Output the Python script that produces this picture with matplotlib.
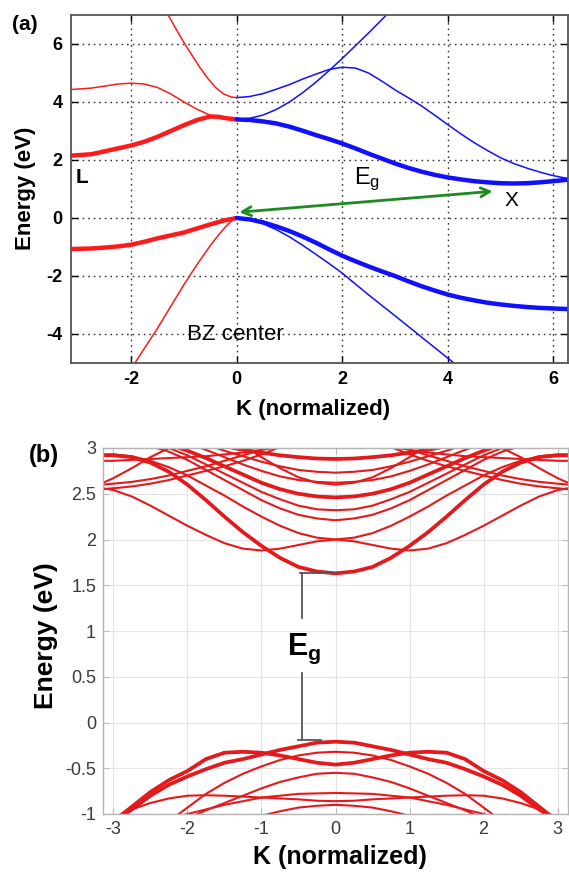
import numpy as np
import matplotlib
matplotlib.use('Agg')
import matplotlib.pyplot as plt

plt.rcParams['font.family'] = ['Liberation Sans', 'DejaVu Sans']
plt.rcParams['mathtext.fontset'] = 'custom'
plt.rcParams['mathtext.rm'] = 'Liberation Sans'
plt.rcParams['mathtext.it'] = 'Liberation Sans'
plt.rcParams['mathtext.bf'] = 'Liberation Sans:bold'

# ---------------- panel (a): L - Gamma - X band structure ----------------
ka_red_c = [-3.14, -2.75, -2.5, -2.25, -2.0, -1.75, -1.5, -1.25, -1.0, -0.75, -0.5, -0.35, -0.2, 0.0]
ea_red_c1 = [2.15, 2.20, 2.30, 2.40, 2.50, 2.63, 2.80, 3.00, 3.20, 3.38, 3.50, 3.49, 3.44, 3.40]  # thick
ea_red_c2 = [4.43, 4.48, 4.55, 4.62, 4.65, 4.62, 4.50, 4.28, 4.00, 3.75, 3.54, 3.47, 3.42, 3.40]
ka_red_c3 = [-1.45, -1.3, -1.15, -1.0, -0.85, -0.7, -0.55, -0.4, -0.25, -0.1, 0.0]
ea_red_c3 = [7.45, 7.00, 6.52, 6.05, 5.62, 5.20, 4.82, 4.50, 4.28, 4.17, 4.15]
ka_red_v1 = [-3.14, -2.75, -2.5, -2.25, -2.0, -1.75, -1.5, -1.25, -1.0, -0.75, -0.5, -0.25, 0.0]
ea_red_v1 = [-1.07, -1.05, -1.02, -0.98, -0.92, -0.82, -0.70, -0.60, -0.50, -0.36, -0.22, -0.09, 0.0]  # thick
ka_red_v2 = [-2.0, -1.75, -1.5, -1.25, -1.0, -0.75, -0.5, -0.35, -0.2, -0.1, 0.0]
ea_red_v2 = [-5.2, -4.5, -3.8, -3.05, -2.3, -1.6, -0.95, -0.60, -0.28, -0.10, 0.0]

ka_blue = [0.0, 0.25, 0.5, 0.75, 1.0, 1.25, 1.5, 1.75, 2.0, 2.25, 2.5, 2.75, 3.0,
           3.25, 3.5, 3.75, 4.0, 4.25, 4.5, 4.75, 5.0, 5.25, 5.5, 5.75, 6.0, 6.28]
ea_blue_c1 = [3.40, 3.38, 3.33, 3.26, 3.15, 3.01, 2.86, 2.72, 2.57, 2.40, 2.22, 2.05, 1.88,
              1.73, 1.60, 1.49, 1.40, 1.33, 1.27, 1.23, 1.20, 1.19, 1.20, 1.23, 1.27, 1.32]  # thick
ea_blue_c2 = [4.15, 4.19, 4.29, 4.44, 4.60, 4.79, 4.96, 5.12, 5.20, 5.17, 5.00, 4.72, 4.42,
              4.15, 3.87, 3.55, 3.22, 2.90, 2.60, 2.33, 2.08, 1.88, 1.72, 1.58, 1.46, 1.36]
ea_blue_v1 = [0.0, -0.05, -0.15, -0.29, -0.45, -0.64, -0.85, -1.08, -1.30, -1.49, -1.67, -1.84, -2.00,
              -2.18, -2.35, -2.50, -2.64, -2.75, -2.84, -2.92, -2.98, -3.03, -3.07, -3.10, -3.12, -3.14]  # thick
ka_blue_c3 = [0.0, 0.25, 0.5, 0.75, 1.0, 1.25, 1.5, 1.75, 2.0, 2.25, 2.5, 2.75, 3.0]
ea_blue_c3 = [3.40, 3.44, 3.55, 3.74, 4.00, 4.32, 4.68, 5.08, 5.50, 5.94, 6.38, 6.84, 7.30]
ka_blue_v2 = [0.0, 0.25, 0.5, 0.75, 1.0, 1.25, 1.5, 1.75, 2.0, 2.5, 3.0, 3.5, 4.0, 4.2]
ea_blue_v2 = [0.0, -0.06, -0.20, -0.40, -0.65, -0.94, -1.25, -1.57, -1.90, -2.65, -3.37, -4.10, -4.83, -5.12]

arrow_start = (4.85, 0.92)
arrow_end = (0.05, 0.20)

xticks_a = [-2, 0, 2, 4, 6]
yticks_a = [-4, -2, 0, 2, 4, 6]

# ---------------- panel (b): supercell band structure ----------------
# readings at K >= 0 (the bands are symmetric about K = 0)
kb_half = [0.0, 0.25, 0.5, 0.75, 1.0, 1.25, 1.5, 1.75, 2.0, 2.25, 2.5, 2.75, 3.0, 3.14]
cb_half = {
    'cA': [1.63, 1.65, 1.70, 1.80, 1.93, 2.08, 2.25, 2.43, 2.60, 2.74, 2.84, 2.90, 2.92, 2.92],
    'cB': [2.00, 1.98, 1.94, 1.90, 1.88, 1.90, 1.96, 2.05, 2.15, 2.26, 2.37, 2.47, 2.54, 2.56],
    'cC': [2.00, 2.02, 2.07, 2.15, 2.25, 2.36, 2.48, 2.59, 2.70, 2.79, 2.86, 2.91, 2.93, 2.93],
    'cD': [2.21, 2.23, 2.27, 2.34, 2.43, 2.54, 2.65, 2.76, 2.87, 2.96, 3.02, 3.06, 3.08, 3.08],
    'cE': [2.32, 2.33, 2.37, 2.44, 2.52, 2.62, 2.72, 2.82, 2.92, 3.00, 3.05, 3.08, 3.10, 3.10],
    'cF': [2.46, 2.47, 2.50, 2.55, 2.62, 2.71, 2.80, 2.89, 2.97, 3.04, 3.10, 3.13, 3.15, 3.15],
    'cG': [2.62, 2.63, 2.65, 2.69, 2.75, 2.82, 2.90, 2.98, 3.05, 3.10, 3.15, 3.18, 3.20, 3.20],
    'cH': [2.73, 2.74, 2.76, 2.80, 2.85, 2.91, 2.97, 3.04, 3.10, 3.15, 3.20, 3.23, 3.25, 3.25],
    'cI': [2.88, 2.885, 2.90, 2.92, 2.95, 2.98, 3.02, 3.06, 3.10, 3.15, 3.20, 3.23, 3.25, 3.25],
    'cJ': [3.30, 3.26, 3.15, 3.06, 2.98, 2.92, 2.86, 2.80, 2.75, 2.70, 2.66, 2.63, 2.61, 2.60],
    'cK': [3.25, 3.21, 3.10, 3.01, 2.93, 2.86, 2.80, 2.75, 2.70, 2.65, 2.61, 2.58, 2.56, 2.55],
    'cM': [3.80, 3.78, 3.70, 3.60, 3.50, 3.40, 3.30, 3.20, 3.10, 3.00, 2.90, 2.78, 2.67, 2.62],
    'cN': [3.10, 3.09, 3.05, 3.01, 2.98, 2.95, 2.93, 2.91, 2.90, 2.89, 2.88, 2.87, 2.86, 2.86],
    'cO': [2.60, 2.62, 2.68, 2.78, 2.90, 3.03, 3.17, 3.30, 3.40, 3.50, 3.55, 3.60, 3.60, 3.60],
}
vb_half = {
    'vA': [-0.21, -0.22, -0.26, -0.30, -0.35, -0.40, -0.44, -0.51, -0.59, -0.68, -0.80, -0.95, -1.08, -1.15],
    'vB': [-0.46, -0.44, -0.40, -0.36, -0.33, -0.32, -0.33, -0.40, -0.53, -0.63, -0.76, -0.92, -1.08, -1.12],
    'vC': [-0.32, -0.33, -0.36, -0.41, -0.48, -0.56, -0.66, -0.78, -0.93, -1.08, -1.20, -1.35, -1.50, -1.55],
    'vD': [-0.55, -0.56, -0.60, -0.65, -0.72, -0.80, -0.88, -0.96, -1.05, -1.15, -1.25, -1.35, -1.45, -1.50],
    'vE': [-0.77, -0.775, -0.78, -0.80, -0.82, -0.86, -0.90, -0.95, -1.00, -1.06, -1.12, -1.20, -1.28, -1.30],
    'vF': [-0.86, -0.855, -0.84, -0.83, -0.82, -0.81, -0.80, -0.795, -0.80, -0.83, -0.88, -0.95, -1.04, -1.08],
    'vG': [-0.90, -0.91, -0.93, -0.97, -1.02, -1.08, -1.15, -1.22, -1.30, -1.35, -1.40, -1.45, -1.50, -1.50],
}
thick_b = {'cA', 'cF', 'cI', 'vA', 'vB'}

# Eg bracket in panel (b)
eg_top = 1.63
eg_top_low = 1.14
eg_bot = -0.19
eg_bot_high = 0.54
eg_k = -0.45

xticks_b = [-3, -2, -1, 0, 1, 2, 3]
yticks_b = [-1, -0.5, 0, 0.5, 1, 1.5, 2, 2.5, 3]

# ---------------- figure ----------------
W, H = 569, 873
fig = plt.figure(figsize=(W / 100, H / 100), dpi=100)

def fx(px):
    return px / W

def fy(py):
    return 1 - py / H

RED = '#ff1a1a'
BLUE = '#1010ff'

ax1 = fig.add_axes([fx(71), fy(363), fx(568) - fx(71), fy(15) - fy(363)])
ax1.plot(ka_red_c, ea_red_c1, color=RED, lw=3.2, solid_capstyle='round')
ax1.plot(ka_red_c, ea_red_c2, color=RED, lw=1.1)
ax1.plot(ka_red_c3, ea_red_c3, color=RED, lw=1.1)
ax1.plot(ka_red_v1, ea_red_v1, color=RED, lw=3.2, solid_capstyle='round')
ax1.plot(ka_red_v2, ea_red_v2, color=RED, lw=1.1)
ax1.plot(ka_blue, ea_blue_c1, color=BLUE, lw=3.2, solid_capstyle='round')
ax1.plot(ka_blue, ea_blue_c2, color=BLUE, lw=1.1)
ax1.plot(ka_blue_c3, ea_blue_c3, color=BLUE, lw=1.1)
ax1.plot(ka_blue, ea_blue_v1, color=BLUE, lw=3.2, solid_capstyle='round')
ax1.plot(ka_blue_v2, ea_blue_v2, color=BLUE, lw=1.1)
ax1.annotate('', xy=arrow_end, xytext=arrow_start,
             arrowprops=dict(arrowstyle='<->', color='#1f8a1f', lw=2.0,
                             mutation_scale=16, shrinkA=0, shrinkB=0))
ax1.set_xlim(-3.14, 6.28)
ax1.set_ylim(-5, 7)
ax1.set_xticks(xticks_a)
ax1.set_yticks(yticks_a)
ax1.set_xticklabels([str(v) for v in xticks_a])
ax1.set_yticklabels([str(v) for v in yticks_a])
ax1.grid(True, color='#333333', linestyle=(0, (1.2, 2.8)), lw=1.0)
ax1.tick_params(direction='in', length=5, width=1.0, labelsize=13, pad=6,
                top=True, right=True)
for lab in ax1.get_xticklabels() + ax1.get_yticklabels():
    lab.set_fontweight('bold')
for s in ax1.spines.values():
    s.set_color('#555555')
    s.set_linewidth(1.3)
ax1.text(-3.05, 1.38, 'L', fontsize=15, fontweight='bold', va='center', ha='left')
ax1.text(2.22, 1.18, r'E$_\mathregular{g}$', fontsize=17, va='baseline', ha='left')
ax1.text(5.2, 0.62, 'X', fontsize=15, va='center', ha='center')
ax1.text(-0.94, -4.02, 'BZ center', fontsize=16, va='center', ha='left')

fig.text(fx(25), fy(24), '(a)', fontsize=15, fontweight='bold', ha='center', va='center')
fig.text(fx(25), fy(188), 'Energy (eV)', fontsize=16, fontweight='bold', rotation=90,
         ha='center', va='center')
fig.text(fx(313), fy(410), 'K (normalized)', fontsize=16, fontweight='bold',
         ha='center', va='center')

# panel (b)
ax2 = fig.add_axes([fx(103), fy(814), fx(568) - fx(103), fy(448) - fy(814)])
REDB = '#e5191c'
kb_full = [-k for k in kb_half[:0:-1]] + kb_half
for name, half in list(cb_half.items()) + list(vb_half.items()):
    vals = half[:0:-1] + half
    ax2.plot(kb_full, vals, color=REDB, lw=2.7 if name in thick_b else 1.5)
ax2.plot([eg_k - 0.03, 0.0], [eg_top, eg_top], color='#555555', lw=1.3)
ax2.plot([eg_k, eg_k], [eg_top, eg_top_low], color='#555555', lw=1.3)
ax2.plot([eg_k, eg_k], [eg_bot_high, eg_bot], color='#555555', lw=1.3)
ax2.plot([eg_k - 0.06, eg_bot], [eg_bot, eg_bot], color='#555555', lw=1.3)
ax2.text(-0.66, 0.74, r'$\mathbf{E_g}$', fontsize=22, ha='left', va='baseline')
ax2.set_xlim(-3.14, 3.14)
ax2.set_ylim(-1, 3)
ax2.set_xticks(xticks_b)
ax2.set_yticks(yticks_b)
ax2.set_xticklabels([f'{v:g}' for v in xticks_b])
ax2.set_yticklabels([f'{v:g}' for v in yticks_b])
ax2.grid(True, color='#e4e4e4', lw=0.8)
ax2.set_axisbelow(True)
ax2.tick_params(direction='in', length=4, width=0.8, labelsize=13, colors='#bbbbbb',
                labelcolor='#3a3a3a', top=True, right=True, pad=5)
for s in ax2.spines.values():
    s.set_color('#b5b5b5')
    s.set_linewidth(1.0)

fig.text(fx(44), fy(455), '(b)', fontsize=17, fontweight='bold', ha='center', va='center')
fig.text(fx(46), fy(636), 'Energy (eV)', fontsize=19, fontweight='bold', rotation=90,
         ha='center', va='center')
fig.text(fx(340), fy(857), 'K (normalized)', fontsize=18, fontweight='bold',
         ha='center', va='center')

fig.savefig('out.png', dpi=100)
